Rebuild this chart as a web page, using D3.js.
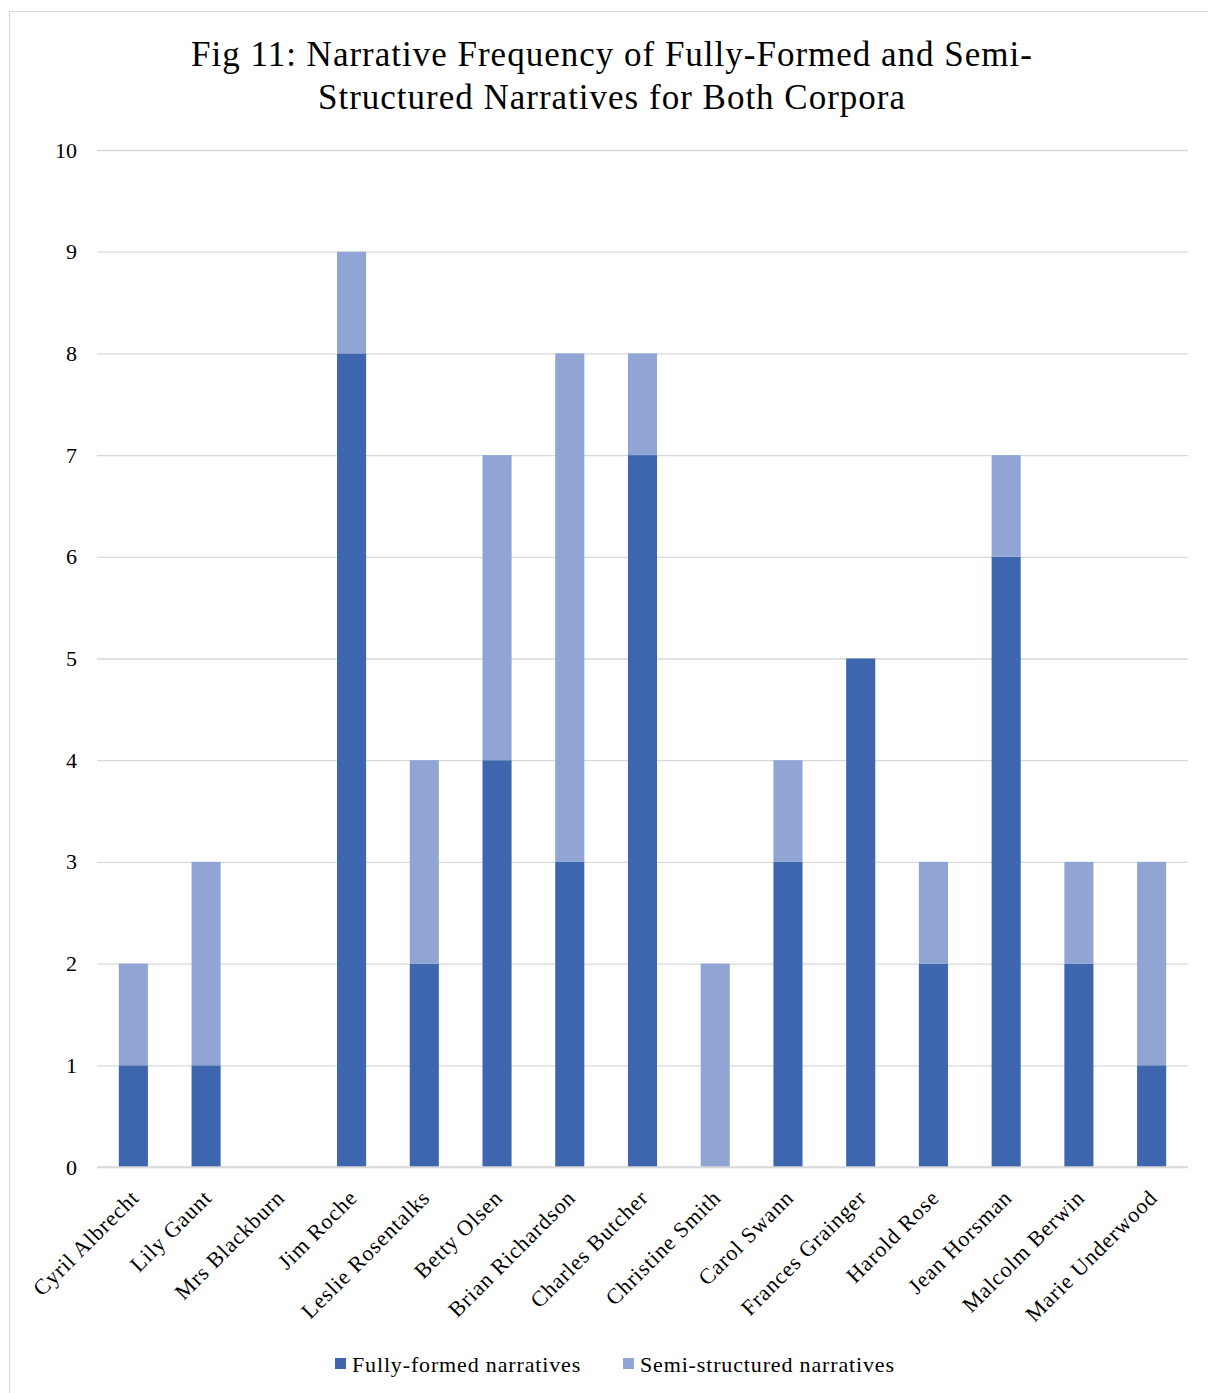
<!DOCTYPE html>
<html>
<head>
<meta charset="utf-8">
<script src="https://cdn.jsdelivr.net/npm/d3@7"></script>
<style>
  html, body { margin: 0; padding: 0; background: #fff; }
  svg { display: block; }
</style>
</head>
<body>
<svg id="chart" width="1208" height="1393"></svg>
<script>
// Narrators in both corpora
const categories = [
  "Cyril Albrecht", "Lily Gaunt", "Mrs Blackburn", "Jim Roche", "Leslie Rosentalks",
  "Betty Olsen", "Brian Richardson", "Charles Butcher", "Christine Smith", "Carol Swann",
  "Frances Grainger", "Harold Rose", "Jean Horsman", "Malcolm Berwin", "Marie Underwood"
];
// Counts per narrator
const fullyFormed    = [1, 1, 0, 8, 2, 4, 3, 7, 0, 3, 5, 2, 6, 2, 1];
const semiStructured = [1, 2, 0, 1, 2, 3, 5, 1, 2, 1, 0, 1, 1, 1, 2];
const seriesNames = ["Fully-formed narratives", "Semi-structured narratives"];
const seriesColors = ["#3e66ae", "#91a5d4"];
const yTicks = [0, 1, 2, 3, 4, 5, 6, 7, 8, 9, 10];
const titleLines = [
  "Fig 11: Narrative Frequency of Fully-Formed and Semi-",
  "Structured Narratives for Both Corpora"
];

const svg = d3.select("#chart");
const serif = "'Liberation Serif', 'Times New Roman', serif";

// chart frame
svg.append("rect")
  .attr("x", 9.5).attr("y", 11.5)
  .attr("width", 1230).attr("height", 1400)
  .attr("fill", "#fff").attr("stroke", "#d9d9d9").attr("stroke-width", 1);

const plot = { left: 97, right: 1188, top: 150, bottom: 1167 };

const x = d3.scaleBand()
  .domain(categories)
  .range([plot.left, plot.right])
  .paddingInner(0.6)
  .paddingOuter(0.3);

const y = d3.scaleLinear()
  .domain([0, 10])
  .range([plot.bottom, plot.top]);

// title
svg.append("text")
  .attr("text-anchor", "middle")
  .attr("font-family", serif)
  .attr("font-size", 35)
  .attr("letter-spacing", 1)
  .attr("fill", "#000")
  .selectAll("tspan")
  .data(titleLines)
  .join("tspan")
  .attr("x", 612)
  .attr("y", (d, i) => 66 + i * 43)
  .text(d => d);

// gridlines + y labels
const yAxis = d3.axisLeft(y)
  .tickValues(yTicks)
  .tickSize(-(plot.right - plot.left))
  .tickPadding(20)
  .tickFormat(d3.format("d"));

const gy = svg.append("g")
  .attr("transform", `translate(${plot.left},0)`)
  .call(yAxis);
gy.select(".domain").remove();
gy.selectAll(".tick line").attr("stroke", "#d9d9d9").attr("stroke-width", 1.3);
gy.selectAll(".tick text")
  .attr("font-family", serif)
  .attr("font-size", 22)
  .attr("fill", "#000");

// stacked bars
const rows = categories.map((c, i) => ({ cat: c, f: fullyFormed[i], s: semiStructured[i] }));
const stack = d3.stack().keys(["f", "s"])(rows);

svg.append("g")
  .selectAll("g")
  .data(stack)
  .join("g")
  .attr("fill", (d, i) => seriesColors[i])
  .selectAll("rect")
  .data(d => d.filter(p => p[1] > p[0]))
  .join("rect")
  .attr("x", d => x(d.data.cat))
  .attr("width", x.bandwidth())
  .attr("y", d => y(d[1]))
  .attr("height", d => y(d[0]) - y(d[1]));

// baseline
svg.append("line")
  .attr("x1", plot.left).attr("x2", plot.right)
  .attr("y1", plot.bottom).attr("y2", plot.bottom)
  .attr("stroke", "#d9d9d9").attr("stroke-width", 1.3);

// category labels, rotated
const xAxis = d3.axisBottom(x).tickSize(0).tickPadding(0);
const gx = svg.append("g")
  .attr("transform", `translate(0,${plot.bottom})`)
  .call(xAxis);
gx.select(".domain").remove();
gx.selectAll(".tick text")
  .attr("font-family", serif)
  .attr("font-size", 22)
  .attr("letter-spacing", 0.9)
  .attr("fill", "#000")
  .attr("text-anchor", "end")
  .attr("dy", null)
  .attr("y", 0)
  .attr("transform", "translate(7,32) rotate(-45)");

// legend
const legend = svg.append("g");
const legendX = [335, 623];
seriesNames.forEach((name, i) => {
  legend.append("rect")
    .attr("x", legendX[i]).attr("y", 1358)
    .attr("width", 11).attr("height", 11)
    .attr("fill", seriesColors[i]);
  legend.append("text")
    .attr("x", legendX[i] + 17).attr("y", 1372)
    .attr("font-family", serif)
    .attr("font-size", 22)
    .attr("letter-spacing", 0.85)
    .attr("fill", "#000")
    .text(name);
});
</script>
</body>
</html>
